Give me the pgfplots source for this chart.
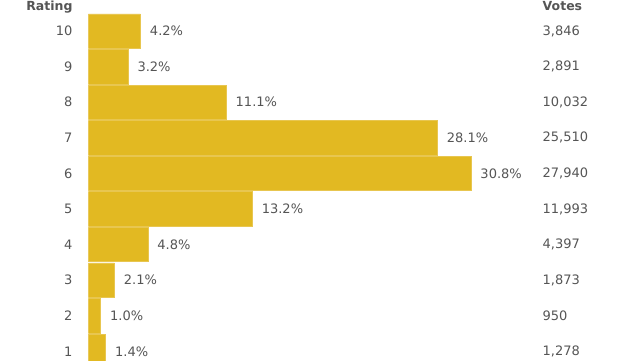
\documentclass[border=0pt]{standalone}
\usepackage{pgfplots}
\pgfplotsset{compat=1.18}
\usepackage{pgfplotstable}
\usepackage{fontspec}
\setmainfont{DejaVu Sans}
\definecolor{barc}{HTML}{E2B922}
\definecolor{barb}{HTML}{E8C650}
\definecolor{txt}{HTML}{555555}
\pgfplotstableread{
rating pct votes lab
10 4.2 {3,846} {4.2\%}
9 3.2 {2,891} {3.2\%}
8 11.1 {10,032} {11.1\%}
7 28.1 {25,510} {28.1\%}
6 30.8 {27,940} {30.8\%}
5 13.2 {11,993} {13.2\%}
4 4.8 {4,397} {4.8\%}
3 2.1 {1,873} {2.1\%}
2 1.0 {950} {1.0\%}
1 1.4 {1,278} {1.4\%}
}\ratings
\begin{document}
\begin{tikzpicture}[x=1bp,y=1bp]
\path[use as bounding box, clip] (0,0) rectangle (640,360);
\begin{axis}[
  at={(88.3bp,0bp)}, anchor=south west,
  scale only axis,
  width=497bp, height=360bp,
  xmin=0, xmax=40,
  ymin=0.758, ymax=10.871,
  axis line style={draw=none},
  xtick=\empty,
  ytick={1,...,10},
  /pgf/number format/assume math mode=true,
  major tick length=0pt,
  yticklabel style={font=\fontsize{13bp}{15bp}\selectfont, text=txt, inner sep=0pt, xshift=-15.6bp},
  clip=true,
]
\addplot[xbar, bar width=34.4bp, fill=barc, draw=barb, line width=0.6bp,
  nodes near coords,
  point meta=explicit symbolic,
  every node near coord/.style={font=\fontsize{13bp}{15bp}\selectfont, text=txt, anchor=west, inner sep=0pt, xshift=9.2bp},
] table[x=pct, y=rating, meta=lab] {\ratings};
\addplot[draw=none, mark=none,
  nodes near coords,
  point meta=explicit symbolic,
  every node near coord/.style={font=\fontsize{13bp}{15bp}\selectfont, text=txt, anchor=west, inner sep=0pt},
] table[x expr=36.55, y=rating, meta=votes] {\ratings};
\end{axis}
\node[anchor=base east, inner sep=0pt, text=txt, font=\fontsize{12.5bp}{15bp}\selectfont\bfseries] at (72.7,349.2) {Rating};
\node[anchor=base west, inner sep=0pt, text=txt, font=\fontsize{12.5bp}{15bp}\selectfont\bfseries] at (542.5,349.2) {Votes};
\end{tikzpicture}
\end{document}
